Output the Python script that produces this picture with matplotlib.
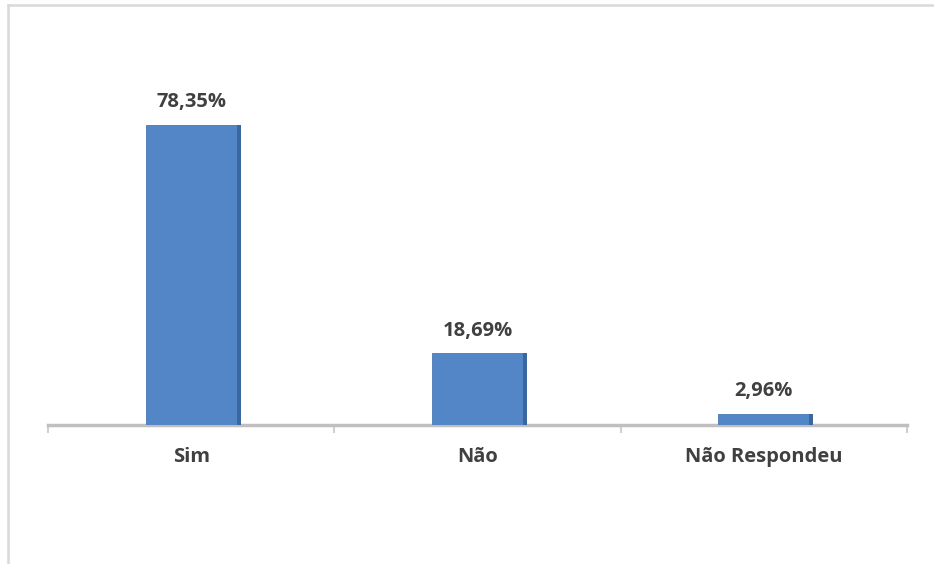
import matplotlib
matplotlib.use('Agg')
import matplotlib.pyplot as plt
from matplotlib.lines import Line2D

categories = ['Sim', 'Não', 'Não Respondeu']
values = [78.35, 18.69, 2.96]
labels = ['78,35%', '18,69%', '2,96%']

plt.rcParams['font.family'] = ['Open Sans', 'DejaVu Sans']

fig = plt.figure(figsize=(9.34, 5.64), dpi=100)
ax = fig.add_axes([48 / 934, 139 / 564, 859 / 934, 383 / 564])

x = list(range(len(categories)))
bw = 0.318
# front face
ax.bar(x, values, width=bw, color='#5386C6', edgecolor='#4A78B2', linewidth=0.6, zorder=3)
# darker side face for the 3D look
side = [xi + bw / 2 + 0.007 for xi in x]
ax.bar(side, values, width=0.014, color='#3A679E', edgecolor='none', zorder=3)

for xi, v, lab in zip(x, values, labels):
    ax.annotate(lab, (xi, v), xytext=(0, 9), textcoords='offset points',
                ha='center', va='bottom', fontsize=14.5, fontweight='bold', color='#404040')

ax.set_xlim(-0.5, 2.5)
ax.set_ylim(0, 100)
ax.set_yticks([])
ax.set_xticks(x)
ax.set_xticklabels(categories, fontsize=14.5, fontweight='bold', color='#404040')
ax.tick_params(axis='x', which='major', length=0, pad=16)
ax.set_xticks([-0.5, 0.5, 1.5, 2.5], minor=True)
ax.tick_params(axis='x', which='minor', length=6, width=1.5, color='#D0D0D0')
for s in ['top', 'right', 'left']:
    ax.spines[s].set_visible(False)
ax.spines['bottom'].set_color('#BFBFBF')
ax.spines['bottom'].set_linewidth(2.5)

# chart frame (left and top only visible)
fig.add_artist(Line2D([7.5 / 934, 7.5 / 934], [0, 1 - 4.5 / 564], transform=fig.transFigure,
                      color='#D9D9D9', linewidth=1.8))
fig.add_artist(Line2D([7.5 / 934, 1], [1 - 4.5 / 564, 1 - 4.5 / 564], transform=fig.transFigure,
                      color='#D9D9D9', linewidth=1.8))

plt.savefig('out.png', dpi=100)
